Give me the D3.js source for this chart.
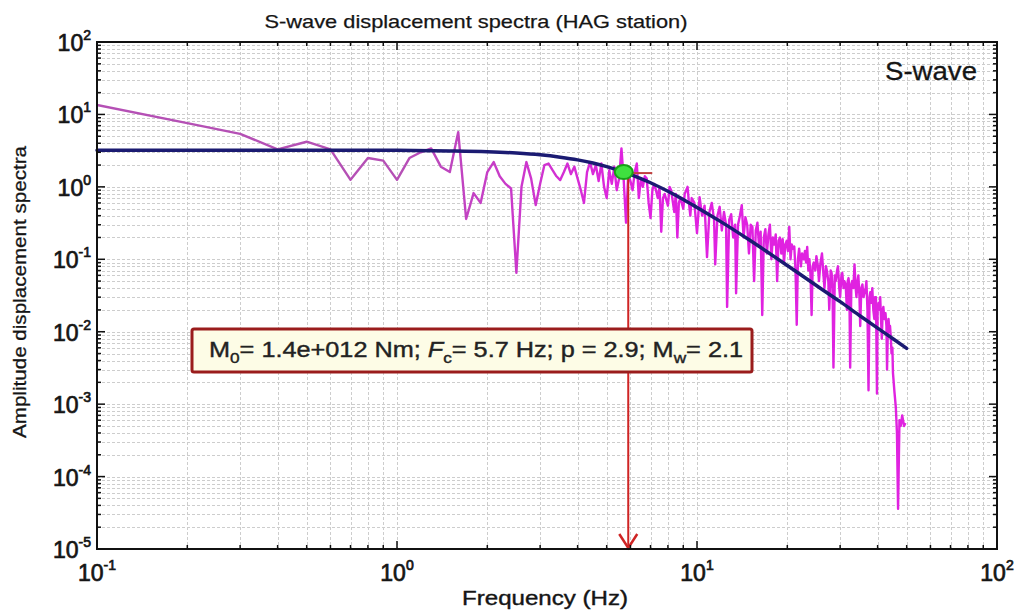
<!DOCTYPE html>
<html>
<head>
<meta charset="utf-8">
<script src="https://cdn.jsdelivr.net/npm/d3@7"></script>
<style>
body { margin:0; background:#fff; }
text { font-family:"Liberation Sans", Arial, sans-serif; fill:#151515; stroke:#151515; stroke-width:0.4; }
</style>
</head>
<body>
<svg width="1020" height="610"></svg>
<script>
var margin = {left:97,right:23,top:42,bottom:61};
var width = 1020;
var height = 610;

// observed S-wave displacement spectrum [frequency Hz, amplitude]
var spectrum = [
  [0.1,13.5],[0.2,7.6],[0.3,5.4],[0.4,3.3],[0.5,4.2],[0.6,3.3],[0.7,1.25],[0.8,2.5],[0.9,2.3],[1.0,1.25],
  [1.1,2.5],[1.2,3.0],[1.3,3.4],[1.4,1.9],[1.5,1.6],[1.6,5.7],[1.7,0.36],[1.8,0.82],[1.9,0.6],[2.0,1.6],
  [2.1,2.2],[2.2,1.4],[2.3,1.1],[2.4,0.95],[2.5,0.065],[2.6,1.0],[2.7,2.2],[2.8,1.3],[2.9,0.56],[3.0,1.1],
  [3.1,2.0],[3.2,2.1],[3.3,1.7],[3.4,1.4],[3.5,1.24],[3.6,1.6],[3.7,2.1],[3.8,1.5],[3.9,1.9],[4.0,1.3],
  [4.1,0.9],[4.2,0.6],[4.3,1.6],[4.4,2.2],[4.5,1.5],[4.6,2.0],[4.7,1.2],[4.8,2.1],[4.9,1.0],[5.0,0.7],
  [5.1,1.7],[5.2,1.1],[5.3,1.9],[5.4,0.9],[5.5,1.3],[5.6,3.4],[5.7,1.2],[5.8,0.32],[5.9,1.5],[6.0,1.2],
  [6.1,0.9],[6.2,1.6],[6.3,2.1],[6.4,0.7],[6.5,1.3],[6.6,1.0],[6.7,1.4],[6.8,1.3],[6.9,0.6],[7.0,0.37],
  [7.1,0.9],[7.2,1.1],[7.3,0.9],[7.4,0.7],[7.5,1.0],[7.6,0.24],[7.7,0.7],[7.8,0.8],[8.0,0.55],[8.1,1.0],
  [8.2,0.9],[8.4,0.45],[8.5,0.8],[8.6,0.2],[8.7,0.6],[8.8,0.7],[9.0,0.5],[9.1,0.8],[9.3,1.0],[9.4,0.6],
  [9.5,0.4],[9.6,0.7],[9.8,0.6],[10.0,0.23],[10.2,0.72],[10.4,0.4],[10.6,0.55],[10.8,0.107],[11.0,0.45],[11.2,0.6],
  [11.4,0.35],[11.5,0.085],[11.7,0.4],[11.9,0.53],[12.1,0.25],[12.3,0.45],[12.5,0.3],[12.6,0.022],[12.8,0.35],[13.0,0.42],
  [13.2,0.2],[13.4,0.3],[13.5,0.034],[13.7,0.3],[13.9,0.4],[14.1,0.56],[14.3,0.2],[14.5,0.38],[14.7,0.3],[14.9,0.12],
  [15.1,0.3],[15.3,0.28],[15.5,0.05],[15.7,0.25],[15.9,0.32],[16.1,0.15],[16.3,0.24],[16.5,0.017],[16.7,0.2],[16.9,0.26],
  [17.1,0.12],[17.3,0.22],[17.5,0.3],[17.7,0.1],[17.9,0.2],[18.1,0.16],[18.3,0.22],[18.5,0.05],[18.7,0.18],[18.9,0.2],
  [19.1,0.12],[19.3,0.19],[19.5,0.09],[19.7,0.16],[19.9,0.18],[20.1,0.13],[20.3,0.28],[20.5,0.1],[20.7,0.16],[20.9,0.14],
  [21.1,0.15],[21.3,0.07],[21.5,0.0125],[21.7,0.1],[21.9,0.14],[22.2,0.08],[22.4,0.12],[22.7,0.1],[22.9,0.13],[23.1,0.09],
  [23.3,0.148],[23.5,0.07],[23.7,0.1],[23.9,0.06],[24.1,0.017],[24.3,0.08],[24.5,0.09],[24.8,0.07],[25.0,0.11],[25.3,0.08],
  [25.5,0.05],[25.8,0.09],[26.1,0.12],[26.4,0.06],[26.6,0.04],[26.9,0.08],[27.1,0.07],[27.4,0.05],[27.6,0.02],[27.9,0.07],
  [28.1,0.065],[28.3,0.04],[28.5,0.0032],[28.8,0.06],[29.0,0.05],[29.3,0.07],[29.5,0.08],[29.8,0.04],[30.0,0.03],[30.3,0.06],
  [30.5,0.065],[30.8,0.04],[31.0,0.05],[31.3,0.045],[31.6,0.02],[31.8,0.05],[32.0,0.055],[32.2,0.04],[32.4,0.0032],[32.7,0.045],
  [32.9,0.05],[33.2,0.04],[33.5,0.085],[33.8,0.04],[34.0,0.03],[34.3,0.05],[34.5,0.06],[34.8,0.03],[35.0,0.012],[35.3,0.04],
  [35.6,0.045],[35.9,0.03],[36.2,0.035],[36.5,0.04],[36.7,0.05],[37.0,0.02],[37.3,0.00155],[37.6,0.03],[37.8,0.035],[38.1,0.025],
  [38.4,0.04],[38.7,0.02],[39.0,0.015],[39.2,0.03],[39.5,0.03],[39.8,0.0014],[40.0,0.02],[40.3,0.025],[40.6,0.02],[40.8,0.03],
  [41.0,0.018],[41.3,0.008],[41.6,0.02],[41.8,0.022],[42.1,0.015],[42.5,0.018],[42.8,0.012],[43.0,0.003],[43.3,0.012],[43.5,0.015],
  [43.8,0.01],[44.0,0.012],[44.3,0.008],[44.5,0.005],[44.8,0.006],[45.0,0.0027],[45.5,0.0015],[46.0,0.0009],[46.4,0.0004],[46.8,0.000036],
  [47.3,0.0006],[47.8,0.0005],[48.3,0.0007],[49.0,0.0005],[49.5,0.00055]
];

// fitted source model curve
var fitCurve = [
  [0.1,3.2],[0.5,3.2],[1,3.19],[1.5,3.13],[2,3.05],[2.5,2.93],[3,2.77],[3.5,2.57],[4,2.36],[4.5,2.13],
  [5,1.9],[5.7,1.6],[6.5,1.3],[7,1.14],[8,0.87],[9,0.67],[10,0.52],[12,0.331],[15,0.183],[20,0.082],
  [25,0.0434],[30,0.026],[35,0.0165],[40,0.0112],[45,0.008],[50,0.0059]
];

var xExps = [-1,0,1,2];
var yExps = [-5,-4,-3,-2,-1,0,1,2];
var cornerPoint = [5.7,1.6];
var arrowFreq = 5.9;
var titleText = "S-wave displacement spectra (HAG station)";

var svg = d3.select("svg");
var w = width - margin.left - margin.right;
var h = height - margin.top - margin.bottom;

var x = d3.scaleLog().domain([0.1,100]).range([margin.left, margin.left + w]);
var y = d3.scaleLog().domain([1e-5,100]).range([margin.top + h, margin.top]);

var xt = x.ticks();
var yt = y.ticks();

// grid
var grid = svg.append("g").attr("stroke","#cdcdcd").attr("stroke-width",1).attr("stroke-dasharray","3,2");
grid.selectAll(".gx").data(xt).enter().append("line")
  .attr("x1",d=>Math.round(x(d))+0.5).attr("x2",d=>Math.round(x(d))+0.5)
  .attr("y1",margin.top).attr("y2",margin.top+h);
grid.selectAll(".gy").data(yt).enter().append("line")
  .attr("y1",d=>Math.round(y(d))+0.5).attr("y2",d=>Math.round(y(d))+0.5)
  .attr("x1",margin.left).attr("x2",margin.left+w);

var defs = svg.append("defs");
defs.append("clipPath").attr("id","clip").append("rect")
  .attr("x",margin.left).attr("y",margin.top).attr("width",w).attr("height",h);
var grad = defs.append("linearGradient").attr("id","specgrad")
  .attr("gradientUnits","userSpaceOnUse")
  .attr("x1",x(1)).attr("x2",x(6)).attr("y1",0).attr("y2",0);
grad.append("stop").attr("offset","0%").attr("stop-color","#b550b5");
grad.append("stop").attr("offset","100%").attr("stop-color","#e022e0");

var line = d3.line().x(d=>x(d[0])).y(d=>y(d[1]));

svg.append("path").datum(spectrum)
  .attr("clip-path","url(#clip)")
  .attr("fill","none").attr("stroke","url(#specgrad)").attr("stroke-width",2.4)
  .attr("stroke-linejoin","round")
  .attr("d",line);

svg.append("path").datum(fitCurve)
  .attr("fill","none").attr("stroke","#1b1b72").attr("stroke-width",3.5)
  .attr("stroke-linecap","round")
  .attr("d",line.curve(d3.curveMonotoneX));

// red arrow down to frequency axis
var ax = x(arrowFreq);
svg.append("line").attr("x1",ax).attr("x2",ax)
  .attr("y1",y(cornerPoint[1])).attr("y2",margin.top+h-1)
  .attr("stroke","#cf2424").attr("stroke-width",2);
svg.append("path")
  .attr("d","M"+(ax-9)+","+(margin.top+h-15)+"L"+ax+","+(margin.top+h-1)+"L"+(ax+9)+","+(margin.top+h-15))
  .attr("fill","none").attr("stroke","#cf2424").attr("stroke-width",2.5);
svg.append("line").attr("x1",ax+2).attr("x2",ax+24)
  .attr("y1",y(cornerPoint[1])+1).attr("y2",y(cornerPoint[1])+1)
  .attr("stroke","#c04040").attr("stroke-width",2);

// corner marker
svg.append("ellipse").attr("cx",x(cornerPoint[0])).attr("cy",y(cornerPoint[1]))
  .attr("rx",9).attr("ry",7).attr("fill","#3fe03f").attr("stroke","#18a018").attr("stroke-width",2);

// frame and ticks
svg.append("rect").attr("x",margin.left).attr("y",margin.top).attr("width",w).attr("height",h)
  .attr("fill","none").attr("stroke","#111").attr("stroke-width",2);

var ticks = svg.append("g").attr("stroke","#111").attr("stroke-width",1.5);
xt.forEach(function(d){
  var major = Math.abs(Math.log10(d) - Math.round(Math.log10(d))) < 1e-6;
  var L = major ? 8 : 4;
  ticks.append("line").attr("x1",x(d)).attr("x2",x(d)).attr("y1",margin.top+h).attr("y2",margin.top+h-L);
  ticks.append("line").attr("x1",x(d)).attr("x2",x(d)).attr("y1",margin.top).attr("y2",margin.top+L);
});
yt.forEach(function(d){
  var major = Math.abs(Math.log10(d) - Math.round(Math.log10(d))) < 1e-6;
  var L = major ? 8 : 4;
  ticks.append("line").attr("y1",y(d)).attr("y2",y(d)).attr("x1",margin.left).attr("x2",margin.left+L);
  ticks.append("line").attr("y1",y(d)).attr("y2",y(d)).attr("x1",margin.left+w).attr("x2",margin.left+w-L);
});

// tick labels
function powLabel(sel, e) {
  sel.append("tspan").text("10");
  sel.append("tspan").attr("dy",-11).attr("font-size",14).text(e);
}
xExps.forEach(function(e){
  var t = svg.append("text").attr("x",x(Math.pow(10,e))).attr("y",margin.top+h+32)
    .attr("text-anchor","middle").attr("font-size",23).style("stroke-width",0.7);
  powLabel(t, e);
});
yExps.forEach(function(e){
  var t = svg.append("text").attr("x",margin.left-6).attr("y",y(Math.pow(10,e))+9)
    .attr("text-anchor","end").attr("font-size",23).style("stroke-width",0.7);
  powLabel(t, e);
});

// titles
svg.append("text").attr("x",476).attr("y",28).attr("text-anchor","middle")
  .attr("font-size",19).attr("textLength",423).attr("lengthAdjust","spacingAndGlyphs")
  .style("stroke-width",0.25).text(titleText);
svg.append("text").attr("x",545).attr("y",605).attr("text-anchor","middle")
  .attr("font-size",21).attr("textLength",166).attr("lengthAdjust","spacingAndGlyphs")
  .text("Frequency (Hz)");
svg.append("text").attr("transform","translate(26,292) rotate(-90)").attr("text-anchor","middle")
  .attr("font-size",18).attr("textLength",292).attr("lengthAdjust","spacingAndGlyphs")
  .style("stroke-width",0.3).text("Amplitude displacement spectra");
svg.append("text").attr("x",977).attr("y",80).attr("text-anchor","end")
  .attr("font-size",26).attr("textLength",92).attr("lengthAdjust","spacingAndGlyphs")
  .style("stroke-width",0.3).text("S-wave");

// annotation box
svg.append("rect").attr("x",192).attr("y",329).attr("width",560).attr("height",43).attr("rx",2)
  .attr("fill","#fdfce6").attr("stroke","#9a1c1c").attr("stroke-width",3);
var ann = svg.append("text").attr("x",209).attr("y",357).attr("font-size",22)
  .attr("textLength",534).attr("lengthAdjust","spacingAndGlyphs").style("fill","#222").style("stroke","#222");
ann.append("tspan").text("M");
ann.append("tspan").attr("dy",6).attr("font-size",15).text("0");
ann.append("tspan").attr("dy",-6).text("= 1.4e+012 Nm; ");
ann.append("tspan").attr("font-style","italic").text("F");
ann.append("tspan").attr("dy",6).attr("font-size",15).text("c");
ann.append("tspan").attr("dy",-6).text("= 5.7 Hz; p = 2.9; M");
ann.append("tspan").attr("dy",6).attr("font-size",15).text("w");
ann.append("tspan").attr("dy",-6).text("= 2.1");
</script>
</body>
</html>
